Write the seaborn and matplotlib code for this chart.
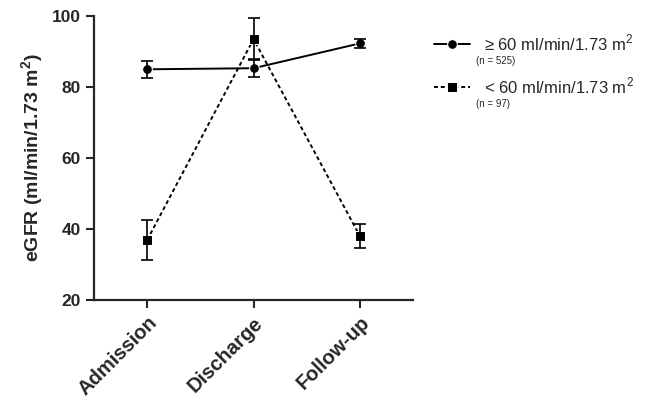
import numpy as np
import pandas as pd
import matplotlib
matplotlib.use("Agg")
import matplotlib.pyplot as plt
import seaborn as sns

phases = ["Admission", "Discharge", "Follow-up"]
high_mean = [85.0, 85.3, 92.3]
high_err = [2.4, 2.5, 1.2]
low_mean = [36.9, 93.5, 38.0]
low_err = [5.6, 6.0, 3.4]
groups = ["\u2265 60 ml/min/1.73 m$^2$", "< 60 ml/min/1.73 m$^2$"]
group_n = ["(n = 525)", "(n = 97)"]

sns.set_style("ticks")
plt.rcParams['font.family'] = ['Liberation Sans', 'DejaVu Sans']
plt.rcParams['mathtext.fontset'] = 'custom'
plt.rcParams['mathtext.rm'] = 'Liberation Sans'
plt.rcParams['mathtext.bf'] = 'Liberation Sans:bold'

df = pd.DataFrame({
    "phase": phases * 2,
    "egfr": high_mean + low_mean,
    "group": [groups[0]] * 3 + [groups[1]] * 3,
})

fig = plt.figure(figsize=(6.46, 4.12), dpi=100)
ax = fig.add_axes([0.1455, 0.272, 0.494, 0.689])

sns.lineplot(data=df, x="phase", y="egfr", hue="group", style="group",
             markers={groups[0]: "o", groups[1]: "s"},
             dashes={groups[0]: "", groups[1]: (2, 1.5)},
             palette={groups[0]: "black", groups[1]: "black"},
             markersize=7, linewidth=1.4, ax=ax, legend=True)

# error bars (mean +/- SEM)
ax.errorbar(phases, high_mean, yerr=high_err, fmt="none", ecolor="black",
            elinewidth=1.2, capsize=4, capthick=1.2)
ax.errorbar(phases, low_mean, yerr=low_err, fmt="none", ecolor="black",
            elinewidth=1.2, capsize=4, capthick=1.2)

ax.set_xlim(-0.5, 2.5)
ax.set_ylim(20, 100)
ax.set_yticks([20, 40, 60, 80, 100])
ax.set_xlabel("")
ax.set_ylabel("eGFR (ml/min/1.73 m$^\\mathbf{2}$)", fontsize=14, fontweight="bold")
ax.tick_params(axis="y", labelsize=12.5, width=1.5, length=6)
ax.tick_params(axis="x", labelsize=14.5, width=1.5, length=6)
for lab in ax.get_yticklabels():
    lab.set_fontweight("bold")
for lab in ax.get_xticklabels():
    lab.set_fontweight("bold")
    lab.set_rotation(45)
    lab.set_ha("right")
    lab.set_rotation_mode("anchor")
for side in ["left", "bottom"]:
    ax.spines[side].set_linewidth(1.6)
sns.despine(ax=ax)

handles, labels = ax.get_legend_handles_labels()
ax.get_legend().remove()
leg = fig.legend(handles, labels, loc="upper left", bbox_to_anchor=(0.648, 0.958),
                 frameon=False, fontsize=12, handlelength=2.2, labelspacing=1.35,
                 handletextpad=0.8)
fig.text(0.737, 0.851, group_n[0], fontsize=7, va="center")
fig.text(0.737, 0.747, group_n[1], fontsize=7, va="center")

fig.savefig("out.png", dpi=100)
